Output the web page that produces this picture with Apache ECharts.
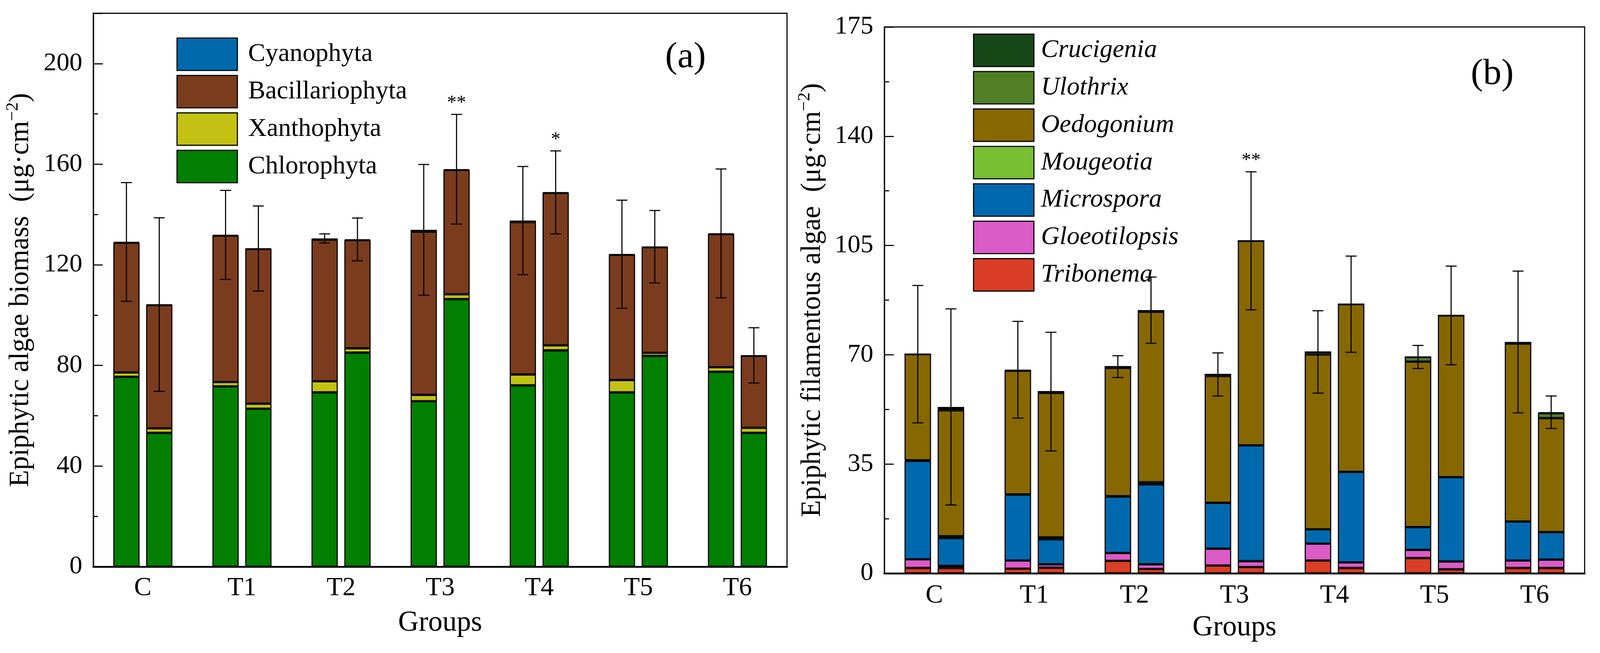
<!DOCTYPE html>
<html><head><meta charset="utf-8">
<script src="https://cdn.jsdelivr.net/npm/echarts@6/dist/echarts.min.js"></script>
<style>html,body{margin:0;padding:0;background:#fff;overflow:hidden;width:100%;height:100%}#c{width:100vw;height:100vh}</style>
</head><body><div id="c"></div>
<script>
const categories = ['C','T1','T2','T3','T4','T5','T6'];

// ---- Panel (a): first bar of each group ----
const chloro1 = [75.5, 71.7, 69.3, 65.8, 72.1, 69.3, 77.5];
const xantho1 = [1.7, 1.7, 4.4, 2.5, 4.3, 4.9, 1.8];
const bacil1  = [51.6, 58.2, 56.3, 64.9, 60.6, 49.8, 52.9];
const cyano1  = [0.3, 0.3, 0.5, 0.7, 0.6, 0.2, 0.3];
const sdA1    = [23.6, 17.7, 1.8, 26.0, 21.5, 21.5, 25.6];
const sigA1   = ['', '', '', '', '', '', ''];
// ---- Panel (a): second bar of each group ----
const chloro2 = [53.2, 62.8, 85.1, 106.4, 86.0, 83.8, 53.2];
const xantho2 = [1.8, 2.0, 1.7, 1.9, 2.0, 1.2, 2.0];
const bacil2  = [49.0, 61.5, 43.0, 49.4, 60.6, 42.0, 28.6];
const cyano2  = [0.2, 0.2, 0.3, 0.3, 0.2, 0.2, 0.2];
const sdA2    = [34.5, 16.9, 8.5, 21.8, 16.5, 14.4, 11.0];
const sigA2   = ['', '', '', '**', '*', '', ''];

// ---- Panel (b): first bar ----
const tribo1 = [1.7, 1.5, 4.0, 2.5, 4.1, 4.9, 1.7];
const gloeo1 = [2.8, 2.6, 2.5, 5.4, 5.4, 2.6, 2.4];
const micro1 = [31.5, 21.1, 18.1, 14.7, 4.6, 7.3, 12.5];
const moug1  = [0.2, 0.1, 0.1, 0.0, 0.0, 0.0, 0.0];
const oedo1  = [34.0, 39.6, 41.1, 40.6, 56.0, 53.0, 57.0];
const ulo1   = [0.0, 0.0, 0.4, 0.5, 0.8, 1.5, 0.0];
const cruc1  = [0.0, 0.3, 0.0, 0.0, 0.0, 0.0, 0.5];
const sdB1   = [22.0, 15.5, 3.5, 6.9, 13.2, 3.7, 22.7];
const sigB1  = ['', '', '', '', '', '', ''];
// ---- Panel (b): second bar ----
const tribo2 = [1.7, 1.8, 1.4, 2.0, 1.7, 1.3, 1.7];
const gloeo2 = [0.7, 1.1, 1.5, 1.9, 1.8, 2.5, 2.7];
const micro2 = [8.9, 8.0, 25.6, 37.1, 29.0, 27.0, 8.8];
const moug2  = [0.6, 0.6, 0.7, 0.0, 0.0, 0.0, 0.0];
const oedo2  = [40.3, 46.3, 54.6, 65.5, 53.7, 51.8, 36.5];
const ulo2   = [0.6, 0.4, 0.0, 0.0, 0.0, 0.0, 1.6];
const cruc2  = [0.5, 0.0, 0.5, 0.0, 0.0, 0.0, 0.3];
const sdB2   = [31.4, 19.0, 10.6, 22.1, 15.4, 15.8, 5.2];
const sigB2  = ['', '', '', '**', '', '', ''];

const yTicksA = {min: 0, max: 220, interval: 40};
const yTicksB = {min: 0, max: 175, interval: 35};

const FONT = '"Liberation Serif", "DejaVu Serif", serif';

// scale layout to the actual viewport (designed for 4373 x 1672)
const el = document.getElementById('c');
const W = el.clientWidth || 4373, H = el.clientHeight || 1672;
const sx = W / 4373, sy = H / 1672, s = Math.min(sx, sy);
const X = v => v * sx, Y = v => v * sy, F = v => Math.round(v * s);

const compA = [
  {name: 'Chlorophyta', color: '#007f00', d: [chloro1, chloro2]},
  {name: 'Xanthophyta', color: '#c3c214', d: [xantho1, xantho2]},
  {name: 'Bacillariophyta', color: '#7a3c1d', d: [bacil1, bacil2]},
  {name: 'Cyanophyta', color: '#0069ac', d: [cyano1, cyano2]}
];
const compB = [
  {name: 'Tribonema', color: '#da3e26', d: [tribo1, tribo2]},
  {name: 'Gloeotilopsis', color: '#db5bc7', d: [gloeo1, gloeo2]},
  {name: 'Microspora', color: '#0069ad', d: [micro1, micro2]},
  {name: 'Mougeotia', color: '#78bf33', d: [moug1, moug2]},
  {name: 'Oedogonium', color: '#876800', d: [oedo1, oedo2]},
  {name: 'Ulothrix', color: '#507f25', d: [ulo1, ulo2]},
  {name: 'Crucigenia', color: '#174717', d: [cruc1, cruc2]}
];

const BARW = 0.265, GAPR = 0.25;
const LW = Math.max(1, 3 * s);
const series = [];
function addBars(comps, axisIdx, prefix) {
  [0, 1].forEach(k => {
    comps.forEach(c => {
      series.push({
        type: 'bar', name: c.name, stack: prefix + k,
        xAxisIndex: axisIdx, yAxisIndex: axisIdx,
        barWidth: (BARW * 100) + '%', barGap: (GAPR * 100) + '%',
        data: c.d[k],
        itemStyle: {color: c.color, borderColor: '#000', borderWidth: LW},
        emphasis: {disabled: true}, z: 2
      });
    });
  });
}
addBars(compA, 0, 'a');
addBars(compB, 1, 'b');

function totals(comps, k) {
  return categories.map((_, i) => comps.reduce((t, c) => t + c.d[k][i], 0));
}
function errSeries(comps, k, sd, sig, axisIdx) {
  const tot = totals(comps, k);
  const sign = k === 0 ? -1 : 1;
  return {
    type: 'custom', xAxisIndex: axisIdx, yAxisIndex: axisIdx, z: 10,
    silent: true,
    data: categories.map((_, i) => [i, tot[i], sd[i]]),
    renderItem: function (params, api) {
      const i = api.value(0), m = api.value(1), d = api.value(2);
      const star = sig[i];
      const bw = api.size([1, 0])[0];
      const dx = sign * bw * (BARW + BARW * GAPR) / 2;
      const hi = api.coord([i, m + d]);
      const lo = api.coord([i, m - d]);
      const x = hi[0] + dx;
      const cw = bw * 0.055;
      const st = {stroke: '#000', lineWidth: LW};
      const children = [
        {type: 'line', shape: {x1: x, y1: hi[1], x2: x, y2: lo[1]}, style: st},
        {type: 'line', shape: {x1: x - cw, y1: hi[1], x2: x + cw, y2: hi[1]}, style: st},
        {type: 'line', shape: {x1: x - cw, y1: lo[1], x2: x + cw, y2: lo[1]}, style: st}
      ];
      if (star) {
        children.push({type: 'text', style: {text: star, x: x, y: hi[1] - Y(4), align: 'center', verticalAlign: 'bottom',
          fontFamily: FONT, fontSize: F(52), fill: '#000'}});
      }
      return {type: 'group', children: children};
    }
  };
}
series.push(errSeries(compA, 0, sdA1, sigA1, 0));
series.push(errSeries(compA, 1, sdA2, sigA2, 0));
series.push(errSeries(compB, 0, sdB1, sigB1, 1));
series.push(errSeries(compB, 1, sdB2, sigB2, 1));

function yAxisCfg(t, gridIdx, title, gap, showMax) {
  return {
    type: 'value', gridIndex: gridIdx, min: t.min, max: t.max, interval: t.interval,
    name: title, nameLocation: 'middle', nameGap: X(gap),
    nameTextStyle: {fontFamily: FONT, fontSize: F(76), color: '#000',
      rich: {sup: {fontFamily: FONT, fontSize: F(48), color: '#000', padding: [0, 0, F(44), 0]},
             base: {fontFamily: FONT, fontSize: F(76), color: '#000'}}},
    axisLine: {show: true, lineStyle: {color: '#000', width: LW}},
    axisTick: {show: true, inside: true, length: X(26), lineStyle: {color: '#000', width: LW}},
    minorTick: {show: true, splitNumber: 2, length: X(13), lineStyle: {color: '#000', width: LW}},
    axisLabel: {fontFamily: FONT, fontSize: F(70), color: '#000', margin: X(30), showMaxLabel: showMax},
    splitLine: {show: false}
  };
}
function xAxisCfg(gridIdx, gap, margin) {
  return {
    type: 'category', gridIndex: gridIdx, data: categories,
    name: 'Groups', nameLocation: 'middle', nameGap: Y(gap),
    nameTextStyle: {fontFamily: FONT, fontSize: F(78), color: '#000'},
    axisLine: {show: true, lineStyle: {color: '#000', width: Math.max(1, 5 * s)}},
    axisTick: {show: false},
    axisLabel: {fontFamily: FONT, fontSize: F(72), color: '#000', margin: Y(margin)},
    splitLine: {show: false}
  };
}

const legendCommon = {
  orient: 'vertical', itemWidth: X(165), itemHeight: Y(83), itemGap: Y(10),
  icon: 'rect', selectedMode: false,
  itemStyle: {borderColor: '#000', borderWidth: LW}
};

const option = {
  animation: false,
  backgroundColor: '#fff',
  grid: [
    {left: X(255), top: Y(34), width: X(1896), height: Y(1417), show: true, borderColor: '#000', borderWidth: LW,
     containLabel: false, outerBoundsMode: 'none'},
    {left: X(2417), top: Y(69), width: X(1914), height: Y(1399), show: true, borderColor: '#000', borderWidth: LW,
     containLabel: false, outerBoundsMode: 'none'}
  ],
  xAxis: [xAxisCfg(0, 108, 22), xAxisCfg(1, 103, 24)],
  yAxis: [
    yAxisCfg(yTicksA, 0, '{base|Epiphytic algae biomass  (μg·cm}{sup|−2}{base|)}', 152, false),
    yAxisCfg(yTicksB, 1, '{base|Epiphytic filamentous algae  (μg·cm}{sup|−2}{base|)}', 150, true)
  ],
  legend: [
    Object.assign({}, legendCommon, {
      left: X(477), top: Y(91),
      data: ['Cyanophyta', 'Bacillariophyta', 'Xanthophyta', 'Chlorophyta'],
      textStyle: {fontFamily: FONT, fontSize: F(70), color: '#000', padding: [0, 0, 0, X(24)]}
    }),
    Object.assign({}, legendCommon, {
      left: X(2654), top: Y(81),
      data: ['Crucigenia', 'Ulothrix', 'Oedogonium', 'Mougeotia', 'Microspora', 'Gloeotilopsis', 'Tribonema'],
      textStyle: {fontFamily: FONT, fontSize: F(70), fontStyle: 'italic', color: '#000', padding: [0, 0, 0, X(14)]}
    })
  ],
  graphic: [
    {type: 'text', left: X(1818), top: Y(100), style: {text: '(a)', fontFamily: FONT, fontSize: F(100), fill: '#000'}},
    {type: 'text', left: X(4020), top: Y(143), style: {text: '(b)', fontFamily: FONT, fontSize: F(100), fill: '#000'}}
  ],
  series: series
};

const chart = echarts.init(el, null, {renderer: 'canvas'});
chart.setOption(option);
</script>
</body></html>
